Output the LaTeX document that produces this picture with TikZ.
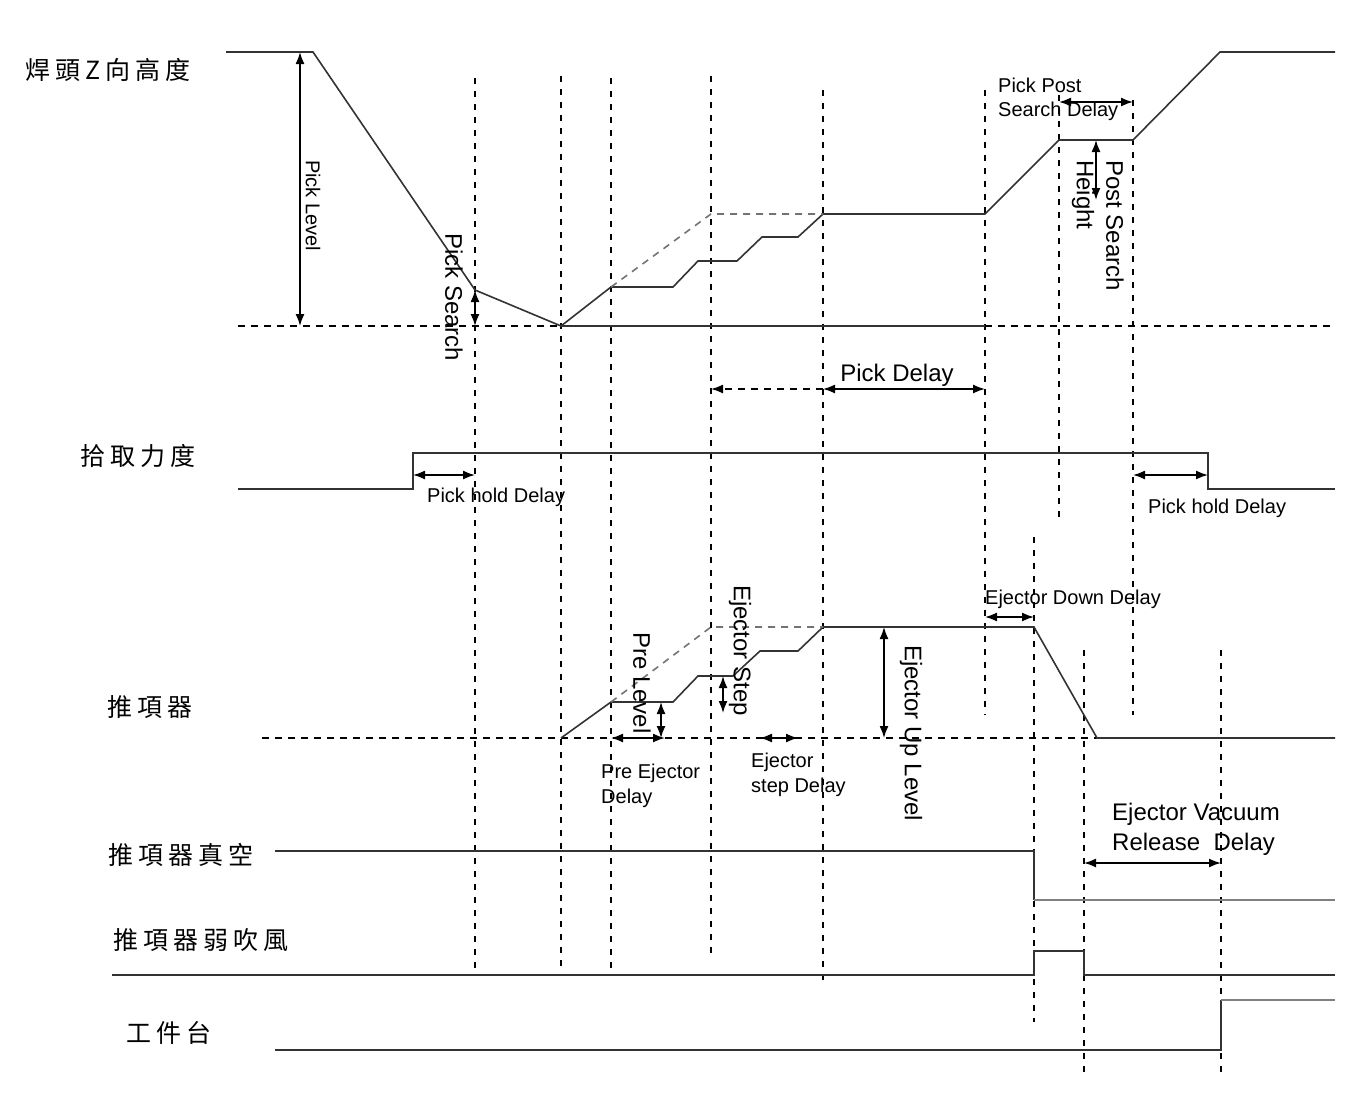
\documentclass[tikz,border=0pt]{standalone}
\usepackage{fontspec}
\setmainfont{Liberation Sans}
\newfontfamily\cjk{Noto Sans CJK TC}
\usetikzlibrary{arrows.meta}
\newcommand\gp{\hspace{5pt}}
\begin{document}
\begin{tikzpicture}[x=1pt,y=-1pt,
  sig/.style={line width=1.6pt, draw=black!80},
  sigg/.style={line width=2pt, draw=black!50},
  vd/.style={line width=1.3pt, dash pattern=on 6pt off 7pt},
  hd/.style={line width=1.3pt, dash pattern=on 7pt off 6pt},
  ideal/.style={line width=1.6pt, draw=black!55, dash pattern=on 7pt off 6pt},
  tip/.style={-{Latex[length=12pt,width=9pt]}},
  dim/.style={line width=1.6pt, {Latex[length=12pt,width=9pt]}-{Latex[length=12pt,width=9pt]}},
  sm/.style={font=\fontsize{20}{24}\selectfont, inner sep=0pt},
  lg/.style={font=\fontsize{24}{28}\selectfont, inner sep=0pt},
  vt/.style={rotate=-90, anchor=west},
  cl/.style={font=\cjk\fontsize{25}{28}\selectfont, inner sep=0pt, anchor=west},
]
\useasboundingbox (0,0) rectangle (1370,1093);

% ---------- vertical dashed guide lines ----------
\draw[vd] (475,78) coordinate (v1t) -- (475,970) coordinate (v1b);
\draw[vd] (561,76) coordinate (v2t) -- (561,970) coordinate (v2b);
\draw[vd] (611,78) coordinate (v3t) -- (611,970) coordinate (v3b);
\draw[vd] (711,76) coordinate (v4t) -- (711,955) coordinate (v4b);
\draw[vd] (823,90) coordinate (v5t) -- (823,982) coordinate (v5b);
\draw[vd] (985,90) coordinate (v6t) -- (985,715) coordinate (v6b);
\draw[vd] (1059,95) coordinate (v7t) -- (1059,520) coordinate (v7b);
\draw[vd] (1133,100) coordinate (v8t) -- (1133,715) coordinate (v8b);
\draw[vd] (1034,537) coordinate (v9t) -- (1034,1022) coordinate (v9b);
\draw[vd] (1084,650) coordinate (v10t) -- (1084,1072) coordinate (v10b);
\draw[vd] (1221,650) coordinate (v11t) -- (1221,1072) coordinate (v11b);

% ---------- bond head Z height ----------
\draw[hd] (238,326) -- (561,326);
\draw[hd] (985,326) -- (1335,326);
\draw[sig] (561,326) -- (985,326);
\draw[sig] (226,52) -- (313,52) -- (475,290) -- (561,326) -- (611,287) -- (673,287)
  -- (698,261) -- (737,261) -- (762,237) -- (798,237) -- (823,214) -- (985,214)
  -- (1059,140) -- (1133,140) -- (1220,52) -- (1335,52);
\draw[ideal] (611,287) -- (711,214) -- (823,214);

\coordinate (plT) at (300,52);  \coordinate (plB) at (300,326);
\draw[dim] (plT) -- (plB);
\node[sm, vt] (plLbl) at (313,160) {Pick Level};

\coordinate (psT) at (475,290); \coordinate (psB) at (475,326);
\draw[dim] (psT) -- (psB);
\node[lg, vt] (psLbl) at (454,233) {Pick Search};

\coordinate (pdA) at (711,389); \coordinate (pdB) at (823,389); \coordinate (pdC) at (985,389);
\draw[hd, line width=1.6pt, tip] (pdB) -- (pdA);
\draw[dim] (pdB) -- (pdC);
\node[lg, anchor=base] (pdLbl) at (897,381) {Pick Delay};

\coordinate (ppA) at (1059,102); \coordinate (ppB) at (1133,102);
\draw[dim] (ppA) -- (ppB);
\node[sm, anchor=base west] (ppL1) at (998,92) {Pick Post};
\node[sm, anchor=base west] (ppL2) at (998,116) {Search Delay};

\coordinate (phT) at (1096,140); \coordinate (phB) at (1096,200);
\draw[dim] (phT) -- (phB);
\node[lg, vt] (phL1) at (1115,160) {Post Search};
\node[lg, vt] (phL2) at (1083,160) {Height};

% ---------- pick force ----------
\draw[sig] (238,489) -- (413,489) -- (413,453) -- (1208,453) -- (1208,489) -- (1335,489);
\coordinate (h1A) at (413,475); \coordinate (h1B) at (475,475);
\draw[dim] (h1A) -- (h1B);
\node[sm, anchor=base west] (h1Lbl) at (427,502) {Pick hold Delay};
\coordinate (h2A) at (1133,475); \coordinate (h2B) at (1208,475);
\draw[dim] (h2A) -- (h2B);
\node[sm, anchor=base west] (h2Lbl) at (1148,513) {Pick hold Delay};

% ---------- ejector ----------
\draw[hd] (262,738) -- (1335,738);
\draw[sig] (561,738) -- (611,702) -- (673,702) -- (698,676) -- (733,676) -- (760,651)
  -- (798,651) -- (823,627) -- (1034,627) -- (1097,738) -- (1335,738);
\draw[ideal] (611,702) -- (711,627) -- (823,627);

\coordinate (edA) at (985,617); \coordinate (edB) at (1034,617);
\draw[dim] (edA) -- (edB);
\node[sm, anchor=base west] (edLbl) at (985,604) {Ejector Down Delay};

\coordinate (plvT) at (661,702); \coordinate (plvB) at (661,738);
\draw[dim] (plvT) -- (plvB);
\node[lg, vt] (plvLbl) at (642,632) {Pre Level};

\coordinate (pedA) at (611,738); \coordinate (pedB) at (665,738);
\draw[dim] (pedA) -- (pedB);
\node[sm, anchor=base west] (pedL1) at (601,778) {Pre Ejector};
\node[sm, anchor=base west] (pedL2) at (601,803) {Delay};

\coordinate (esT) at (723,676); \coordinate (esB) at (723,713);
\draw[dim] (esT) -- (esB);
\node[lg, vt] (esLbl) at (740,585) {Ejector Step};

\coordinate (esdA) at (760,738); \coordinate (esdB) at (798,738);
\draw[dim] (esdA) -- (esdB);
\node[sm, anchor=base west] (esdL1) at (751,767) {Ejector};
\node[sm, anchor=base west] (esdL2) at (751,792) {step Delay};

\coordinate (euT) at (884,627); \coordinate (euB) at (884,738);
\draw[dim] (euT) -- (euB);
\node[lg, vt] (euLbl) at (911,645) {Ejector Up Level};

% ---------- ejector vacuum ----------
\draw[sig] (275,851) -- (1034,851) -- (1034,900);
\draw[sigg] (1034,900) -- (1335,900);
\coordinate (evA) at (1084,863); \coordinate (evB) at (1221,863);
\draw[dim] (evA) -- (evB);
\node[lg, anchor=base west] (evL1) at (1112,820) {Ejector Vacuum};
\node[lg, anchor=base west] (evL2) at (1112,850) {Release~~Delay};

% ---------- ejector weak blow ----------
\draw[sig] (112,975) -- (1034,975) -- (1034,951) -- (1084,951) -- (1084,975) -- (1335,975);

% ---------- work table ----------
\draw[sig] (275,1050) -- (1221,1050) -- (1221,1000);
\draw[sigg] (1221,1000) -- (1335,1000);

% ---------- row labels ----------
\node[cl] (r1) at (25,70) {焊\gp 頭\gp Z\gp 向\gp 高\gp 度};
\node[cl] (r2) at (80,456) {拾\gp 取\gp 力\gp 度};
\node[cl] (r3) at (107,707) {推\gp 項\gp 器};
\node[cl] (r4) at (108,855) {推\gp 項\gp 器\gp 真\gp 空};
\node[cl] (r5) at (113,940) {推\gp 項\gp 器\gp 弱\gp 吹\gp 風};
\node[cl] (r6) at (126,1033) {工\gp 件\gp 台};
\end{tikzpicture}
\end{document}
